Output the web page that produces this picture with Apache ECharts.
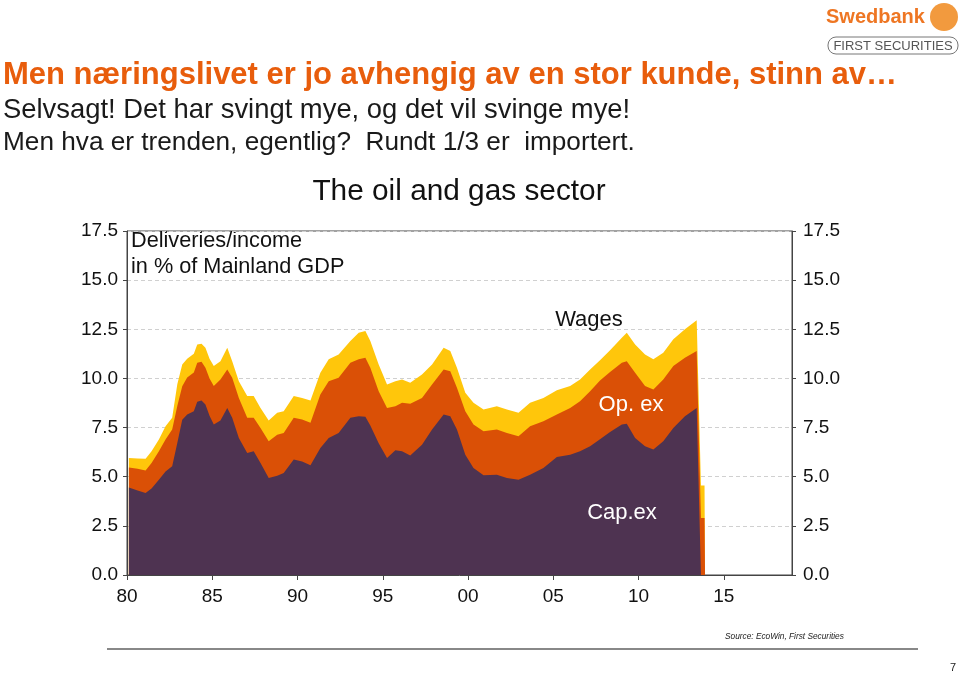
<!DOCTYPE html>
<html><head><meta charset="utf-8">
<script src="https://cdn.jsdelivr.net/npm/echarts@6/dist/echarts.min.js"></script>
<style>html,body{margin:0;padding:0;background:#fff}#c{width:959px;height:675px}</style>
</head><body><div id="c"></div>
<script>
// Decimal years of the read points
const years = [1980.11,1980.62,1981.09,1981.44,1981.87,1982.26,1982.65,1982.95,1983.24,1983.53,
1983.92,1984.12,1984.37,1984.60,1984.84,1985.09,1985.48,1985.88,1986.17,1986.56,
1987.05,1987.43,1987.83,1988.31,1988.81,1989.19,1989.78,1990.27,1990.76,1991.34,
1991.83,1992.41,1993.10,1993.59,1993.98,1994.27,1994.76,1995.25,1995.74,1996.13,
1996.61,1997.30,1997.89,1998.57,1998.96,1999.35,1999.84,2000.32,2000.91,2001.69,
2002.28,2002.96,2003.64,2004.42,2005.21,2005.99,2006.57,2007.16,2007.74,2008.33,
2009.02,2009.31,2009.80,2010.38,2010.87,2011.45,2012.04,2012.72,2013.41,2013.66,
2013.87,2013.90];
// Cap.ex (bottom layer), % of Mainland GDP
const capex = [4.45,4.30,4.17,4.40,4.85,5.27,5.53,6.72,7.90,8.16,
8.33,8.81,8.88,8.67,8.10,7.65,7.86,8.50,8.00,6.97,
6.21,6.29,5.70,4.93,5.05,5.19,5.87,5.78,5.58,6.46,
6.97,7.23,8.00,8.08,8.05,7.60,6.70,5.95,6.35,6.30,
6.08,6.63,7.40,8.16,8.08,7.40,6.12,5.44,5.07,5.10,
4.93,4.85,5.10,5.44,6.00,6.12,6.29,6.55,6.90,7.27,
7.65,7.69,6.97,6.55,6.38,6.80,7.48,8.08,8.50,0,
0,0];
// Op.ex (middle layer)
const opex = [1.02,1.10,1.14,1.30,1.44,1.62,1.87,1.88,1.70,1.89,
1.97,1.99,1.97,1.87,1.90,1.96,2.09,1.96,2.03,2.04,
1.79,1.71,1.78,1.87,2.09,2.04,2.13,2.13,2.16,2.72,
2.89,2.80,2.80,2.89,3.00,2.94,2.65,2.55,2.24,2.46,
2.63,2.38,2.29,2.30,2.29,2.12,2.21,2.21,2.24,2.30,
2.30,2.21,2.47,2.38,2.16,2.38,2.55,2.80,3.00,3.06,
3.15,3.19,3.32,3.06,3.06,3.15,3.15,2.97,2.89,2.90,
2.90,0];
// Wages (top layer)
const wages = [0.48,0.53,0.61,0.60,0.60,0.68,0.60,1.10,1.11,0.95,
0.96,0.93,0.92,1.02,1.00,1.02,0.93,1.10,0.85,0.85,
1.10,1.10,1.02,1.06,1.11,1.10,1.10,1.10,1.14,1.11,
1.11,1.19,1.10,1.36,1.36,1.36,1.36,1.19,1.27,1.19,
1.07,1.19,1.02,1.10,1.02,1.02,0.94,1.11,1.11,1.19,
1.19,1.19,1.19,1.19,1.24,1.11,1.11,1.10,1.03,1.10,
1.27,1.45,1.44,1.61,1.53,1.36,1.36,1.45,1.57,1.65,
1.65,0];

const seriesNames = ['Cap.ex','Op. ex','Wages'];
const colors = ['#4E3351','#DA5006','#FFC60B'];

// cumulative levels (stacked tops)
const lvlCap = capex.map(v=>v);
const lvlOp = capex.map((v,i)=>+(v+opex[i]).toFixed(3));
const lvlWag = capex.map((v,i)=>+(v+opex[i]+wages[i]).toFixed(3));

const chart = echarts.init(document.getElementById('c'), null, {renderer:'canvas'});
const mk = (name, arr, color) => ({
  type:'line', name, symbol:'none', smooth:false,
  data: years.map((y,i)=>[y, arr[i]]),
  lineStyle:{width:0}, itemStyle:{color}, areaStyle:{color, opacity:1, origin:'start'},
  emphasis:{disabled:true}, silent:true
});
const SANS = 'Liberation Sans, Arial, sans-serif';
const axFont = {fontFamily:SANS, fontSize:19, color:'#111'};
const yAx = (pos, showSplit) => ({
  type:'value', position:pos, min:0, max:17.5, interval:2.5,
  axisLine:{show:true, lineStyle:{color:'#444', width:1}},
  axisTick:{show:true, length:4, lineStyle:{color:'#444'}},
  axisLabel:Object.assign({margin: pos==='left'?9:11, formatter:v=>v.toFixed(1)}, axFont),
  splitLine:{show:showSplit, lineStyle:{color:'#d0d0d0', type:[4,3], width:1}}
});
chart.setOption({
  animation:false,
  backgroundColor:'#fff',
  grid:{left:127, right:167, top:231, bottom:100, show:true, borderColor:'#444', borderWidth:1, backgroundColor:'transparent'},
  xAxis:{type:'value', min:1980, max:2019, interval:5,
    axisLine:{show:true, lineStyle:{color:'#444'}},
    axisTick:{show:true, length:5, lineStyle:{color:'#444'}},
    axisLabel:Object.assign({margin:12, showMaxLabel:false,
      formatter:v=> (v%5===0) ? String(v%100).padStart(2,'0') : ''}, axFont),
    splitLine:{show:false}},
  yAxis:[yAx('left', true), yAx('right', false)],
  series:[mk(seriesNames[2], lvlWag, colors[2]), mk(seriesNames[1], lvlOp, colors[1]), mk(seriesNames[0], lvlCap, colors[0])],
  graphic:[
    {type:'text', left:826, top:7, style:{text:'Swedbank', font:'bold 20px '+SANS, fill:'#EE7623'}},
    {type:'circle', shape:{cx:944, cy:17, r:14}, style:{fill:'#F29A3E'}},
    {type:'text', x:893, y:46, style:{text:'FIRST SECURITIES', font:'13px '+SANS, fill:'#555', align:'center', verticalAlign:'middle'}},
    {type:'rect', shape:{x:828, y:37, width:130, height:17, r:8}, style:{fill:'none', stroke:'#777', lineWidth:1}},
    {type:'text', x:3, y:75, style:{text:'Men næringslivet er jo avhengig av en stor kunde, stinn av…', font:'bold 31px '+SANS, fill:'#E85D0C', verticalAlign:'middle', align:'left'}},
    {type:'text', x:3, y:110, style:{text:'Selvsagt! Det har svingt mye, og det vil svinge mye!', font:'27.4px '+SANS, fill:'#1a1a1a', verticalAlign:'middle', align:'left'}},
    {type:'text', x:3, y:143, style:{text:'Men hva er trenden, egentlig?  Rundt 1/3 er  importert.', font:'26.2px '+SANS, fill:'#1a1a1a', verticalAlign:'middle', align:'left'}},
    {type:'text', x:459, y:192, style:{text:'The oil and gas sector', font:'29.8px '+SANS, fill:'#111', verticalAlign:'middle', align:'center'}},
    {type:'text', x:131, y:241, style:{text:'Deliveries/income', font:'21.7px '+SANS, fill:'#111', verticalAlign:'middle', align:'left'}},
    {type:'text', x:131, y:267, style:{text:'in % of Mainland GDP', font:'21.7px '+SANS, fill:'#111', verticalAlign:'middle', align:'left'}},
    {type:'text', x:589, y:320, style:{text:'Wages', font:'22px '+SANS, fill:'#111', verticalAlign:'middle', align:'center'}, z:10},
    {type:'text', x:631, y:405, style:{text:'Op. ex', font:'22px '+SANS, fill:'#fff', verticalAlign:'middle', align:'center'}, z:10},
    {type:'text', x:622, y:513, style:{text:'Cap.ex', font:'22px '+SANS, fill:'#fff', verticalAlign:'middle', align:'center'}, z:10},
    {type:'line', shape:{x1:107, y1:649, x2:918, y2:649}, style:{stroke:'#888', lineWidth:2}},
    {type:'text', x:725, y:637, style:{text:'Source: EcoWin, First Securities', font:'italic 8.3px '+SANS, fill:'#222', verticalAlign:'middle', align:'left'}},
    {type:'text', x:953, y:668, style:{text:'7', font:'11px '+SANS, fill:'#222', verticalAlign:'middle', align:'center'}}
  ]
});
</script></body></html>
